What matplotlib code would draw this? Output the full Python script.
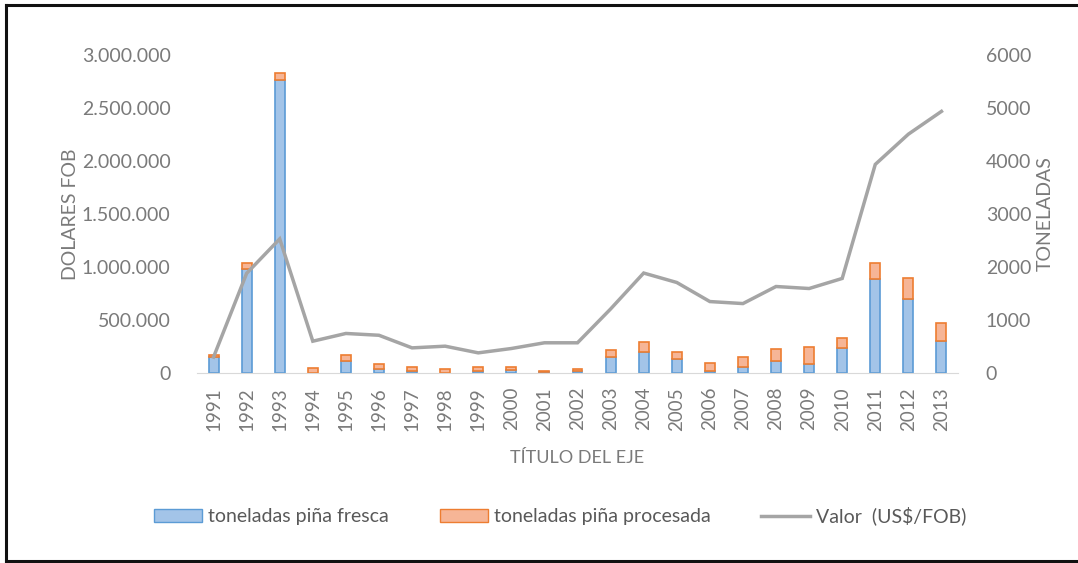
import matplotlib
matplotlib.use('Agg')
import matplotlib.pyplot as plt
import matplotlib.ticker as mtick
from matplotlib.patches import Patch
from matplotlib.lines import Line2D

years = [str(y) for y in range(1991, 2014)]
# toneladas (right axis)
fresca = [300, 1960, 5520, 5, 230, 80, 30, 5, 30, 50, 15, 30,
          300, 390, 270, 30, 110, 235, 175, 475, 1770, 1405, 600]
procesada = [40, 110, 140, 90, 110, 90, 80, 70, 80, 55, 30, 45,
             140, 190, 130, 165, 195, 220, 310, 190, 305, 380, 335]
# valor US$ FOB (left axis)
valor = [150000, 940000, 1265000, 300000, 373000, 356000, 237000, 253000,
         190000, 231000, 285000, 285000, 604000, 943000, 854000, 674000,
         655000, 816000, 797000, 892000, 1968000, 2253000, 2468000]

W, H = 1078, 563
plt.rcParams['font.family'] = ['Lato', 'DejaVu Sans']
txt = '#7a7a7a'

fig = plt.figure(figsize=(W / 100, H / 100), dpi=100)
ax = fig.add_axes([197 / W, 1 - 373 / H, (958 - 197) / W, (373 - 55) / H])
ax2 = ax.twinx()

x = list(range(len(years)))
blue_fill, blue_edge = '#a3c4e8', '#5b9bd5'
org_fill, org_edge = '#f6b596', '#ed7d31'

ax.bar(x, fresca, width=0.3, color=blue_fill, edgecolor=blue_edge, linewidth=1.2)
ax.bar(x, procesada, width=0.3, bottom=fresca, color=org_fill, edgecolor=org_edge, linewidth=1.2)
ax2.plot(x, valor, color='#a5a5a5', linewidth=2.5, solid_joinstyle='miter')

ax.set_xlim(-0.5, len(years) - 0.5)
ax.set_ylim(0, 6000)
ax2.set_ylim(0, 3000000)
ax.set_yticks(range(0, 6001, 1000))
ax2.set_yticks(range(0, 3000001, 500000))
ax2.yaxis.set_major_formatter(mtick.FuncFormatter(lambda v, p: f'{int(v):,}'.replace(',', '.')))

# tonnes on the right, dollars on the left
ax.yaxis.tick_right()
ax.yaxis.set_label_position('right')
ax2.yaxis.tick_left()
ax2.yaxis.set_label_position('left')

ax.set_xticks(x)
ax.set_xticklabels(years, rotation=90)
for a in (ax, ax2):
    for s in ['top', 'left', 'right', 'bottom']:
        a.spines[s].set_visible(False)
    a.tick_params(length=0, colors=txt, labelsize=14)
ax.spines['bottom'].set_visible(True)
ax.spines['bottom'].set_color('#d9d9d9')
ax.tick_params(axis='x', labelsize=13.5, pad=10)
ax.tick_params(axis='y', pad=20)
ax2.tick_params(axis='y', pad=19)

ax2.set_ylabel('DOLARES FOB', color=txt, fontsize=14, labelpad=2)
ax.set_ylabel('TONELADAS', color=txt, fontsize=14, labelpad=4)
ax.set_xlabel('TÍTULO DEL EJE', color=txt, fontsize=13, labelpad=14)

handles = [Patch(facecolor=blue_fill, edgecolor=blue_edge),
           Patch(facecolor=org_fill, edgecolor=org_edge),
           Line2D([0], [0], color='#a5a5a5', linewidth=2.5)]
labels = ['toneladas piña fresca', 'toneladas piña procesada', 'Valor  (US$/FOB)']
fig.legend(handles, labels, loc='center', bbox_to_anchor=(560 / W, 1 - 516 / H), ncol=3,
           frameon=False, fontsize=14, labelcolor='#595959', handlelength=2.5,
           handleheight=0.7, handletextpad=0.3, columnspacing=2.6)

# outer border (right side cut off)
for (x0, y0, x1, y1) in [(6, 5, W + 5, 5), (6, 5, 6, 561), (6, 561, W + 5, 561)]:
    fig.add_artist(Line2D([x0 / W, x1 / W], [1 - y0 / H, 1 - y1 / H], color='#111111', linewidth=2.2))

fig.savefig('out.png', dpi=100)
